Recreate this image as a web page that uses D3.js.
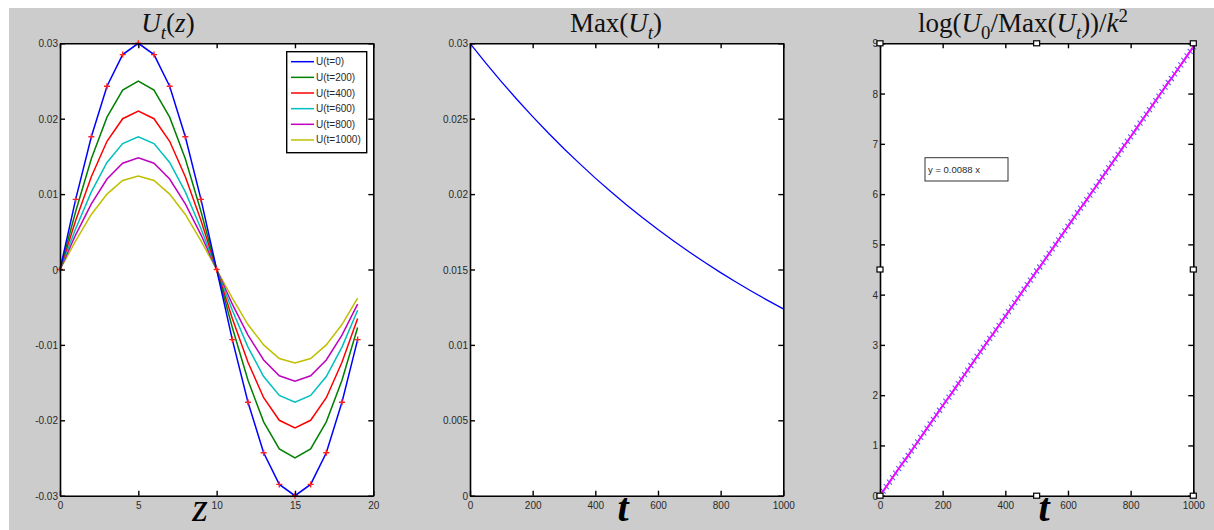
<!DOCTYPE html>
<html><head><meta charset="utf-8">
<script src="https://cdn.jsdelivr.net/npm/d3@7"></script>
<style>
html,body{margin:0;padding:0;background:#fff;}
svg{display:block;}
</style></head>
<body>
<svg id="c" width="1214" height="530"></svg>
<script>
// ---------- DATA ----------
const zValues = [0,1,2,3,4,5,6,7,8,9,10,11,12,13,14,15,16,17,18,19];
const seriesNames = ["U(t=0)","U(t=200)","U(t=400)","U(t=600)","U(t=800)","U(t=1000)"];
const u0    = [0,.0093,.0176,.0243,.0285,.0300,.0285,.0243,.0176,.0093,0,-.0093,-.0176,-.0243,-.0285,-.0300,-.0285,-.0243,-.0176,-.0093];
const u200  = [0,.0077,.0147,.0202,.0238,.0250,.0238,.0202,.0147,.0077,0,-.0077,-.0147,-.0202,-.0238,-.0250,-.0238,-.0202,-.0147,-.0077];
const u400  = [0,.0065,.0123,.0170,.0200,.0210,.0200,.0170,.0123,.0065,0,-.0065,-.0123,-.0170,-.0200,-.0210,-.0200,-.0170,-.0123,-.0065];
const u600  = [0,.0054,.0103,.0142,.0167,.0176,.0167,.0142,.0103,.0054,0,-.0054,-.0103,-.0142,-.0167,-.0176,-.0167,-.0142,-.0103,-.0054];
const u800  = [0,.0046,.0087,.0120,.0141,.0148,.0141,.0120,.0087,.0046,0,-.0046,-.0087,-.0120,-.0141,-.0148,-.0141,-.0120,-.0087,-.0046];
const u1000 = [0,.0038,.0073,.0100,.0118,.0124,.0118,.0100,.0073,.0038,0,-.0038,-.0073,-.0100,-.0118,-.0124,-.0118,-.0100,-.0073,-.0038];
const seriesColors = ["#0000ff","#008000","#ff0000","#00bfbf","#bf00bf","#bfbf00"];

const tValues = [0,50,100,150,200,250,300,350,400,450,500,550,600,650,700,750,800,850,900,950,1000];
const maxU = [.0300,.02870,.02746,.02627,.02514,.02405,.02301,.02202,.02106,.02015,.01928,.01845,.01765,.01689,.01616,.01546,.01479,.01415,.01354,.01295,.01239];

const fitT = [0,10,20,30,40,50,60,70,80,90,100,110,120,130,140,150,160,170,180,190,200,210,220,230,240,250,260,270,280,290,300,310,320,330,340,350,360,370,380,390,400,410,420,430,440,450,460,470,480,490,500,510,520,530,540,550,560,570,580,590,600,610,620,630,640,650,660,670,680,690,700,710,720,730,740,750,760,770,780,790,800,810,820,830,840,850,860,870,880,890,900,910,920,930,940,950,960,970,980,990,1000];
const logRatio = [0,.09,.18,.27,.36,.45,.54,.63,.71,.80,.89,.98,1.07,1.16,1.25,1.34,1.43,1.52,1.61,1.70,1.79,1.88,1.96,2.05,2.14,2.23,2.32,2.41,2.50,2.59,2.68,2.77,2.86,2.95,3.04,3.13,3.21,3.30,3.39,3.48,3.57,3.66,3.75,3.84,3.93,4.02,4.11,4.20,4.29,4.38,4.47,4.55,4.64,4.73,4.82,4.91,5.00,5.09,5.18,5.27,5.36,5.45,5.54,5.63,5.72,5.80,5.89,5.98,6.07,6.16,6.25,6.34,6.43,6.52,6.61,6.70,6.79,6.88,6.97,7.05,7.14,7.23,7.32,7.41,7.50,7.59,7.68,7.77,7.86,7.95,8.04,8.13,8.22,8.30,8.39,8.48,8.57,8.66,8.75,8.84,8.93];
const fitLabel = "y = 0.0088 x";

const xTicks1 = [0,5,10,15,20];
const yTicks1 = [-0.03,-0.02,-0.01,0,0.01,0.02,0.03];
const xTicks2 = [0,200,400,600,800,1000];
const yTicks2 = [0,0.005,0.01,0.015,0.02,0.025,0.03];
const yTicks3 = [0,1,2,3,4,5,6,7,8,9];

// ---------- LAYOUT ----------
const svg = d3.select("#c");
svg.append("rect").attr("x",9).attr("y",8).attr("width",1205).attr("height",522).attr("fill","#cccccc");

const TOP = 43.3, BOT = 495.7;
const fmt = d => String(+(+d).toFixed(4));

function panel(x0, x1, xdom, ydom, xt, yt){
  const x = d3.scaleLinear().domain(xdom).range([x0,x1]);
  const y = d3.scaleLinear().domain(ydom).range([BOT,TOP]);
  const g = svg.append("g");
  g.append("rect").attr("x",x0).attr("y",TOP).attr("width",x1-x0).attr("height",BOT-TOP).attr("fill","#fff");
  const plot = svg.append("g");
  const ax = svg.append("g").attr("class","axes");
  const style = sel => {
    sel.selectAll(".domain").attr("stroke","#000").attr("stroke-width",1.6);
    sel.selectAll(".tick line").attr("stroke","#000").attr("stroke-width",1.4);
    sel.selectAll("text").attr("font-family","'Liberation Sans', Arial, sans-serif").attr("font-size",10).attr("fill","#2a2a2a");
  };
  ax.append("g").attr("transform",`translate(${x0},0)`)
    .call(d3.axisLeft(y).tickValues(yt).tickSize(-5).tickSizeOuter(0).tickPadding(2).tickFormat(fmt)).call(style)
    .selectAll("text").attr("dy","0.35em");
  ax.append("g").attr("transform",`translate(${x1},0)`)
    .call(d3.axisRight(y).tickValues(yt).tickSize(-5).tickSizeOuter(0).tickFormat("")).call(style);
  ax.append("g").attr("transform",`translate(0,${TOP})`)
    .call(d3.axisTop(x).tickValues(xt).tickSize(-5).tickSizeOuter(0).tickFormat("")).call(style);
  ax.append("g").attr("transform",`translate(0,${BOT})`)
    .call(d3.axisBottom(x).tickValues(xt).tickSize(-5).tickSizeOuter(0).tickPadding(6).tickFormat(fmt)).call(style);
  return {x,y,plot,ax};
}

function mathText(cx, cy, parts, size){
  const t = svg.append("text").attr("x",cx).attr("y",cy).attr("text-anchor","middle")
    .attr("font-family","'Liberation Serif','Times New Roman',serif").attr("font-size",size).attr("fill","#111");
  let cur = 0;
  parts.forEach(p=>{
    const target = p.sub ? size*0.25 : (p.sup ? -size*0.38 : 0);
    const s = t.append("tspan").text(p.t).attr("dy", target-cur);
    cur = target;
    if(p.i) s.attr("font-style","italic");
    if(p.sub||p.sup) s.attr("font-size", size*0.7);
  });
  return t;
}

// ---------- PANEL 1 ----------
const p1 = panel(60, 373.3, [0,20], [-0.03,0.03], xTicks1, yTicks1);
const all = [u0,u200,u400,u600,u800,u1000];
const line1 = d3.line().x((d,i)=>p1.x(zValues[i])).y(d=>p1.y(d));
all.slice().reverse().forEach((s,k)=>{
  const idx = all.length-1-k;
  p1.plot.append("path").attr("d",line1(s)).attr("fill","none")
    .attr("stroke",seriesColors[idx]).attr("stroke-width",1.5);
});
// red + markers on U(t=0)
p1.plot.selectAll("path.plus").data(u0).join("path").attr("class","plus")
  .attr("d",(d,i)=>{const X=p1.x(zValues[i]),Y=p1.y(d);return `M${X-3},${Y}H${X+3}M${X},${Y-3}V${Y+3}`;})
  .attr("stroke","#ff2020").attr("stroke-width",1.4).attr("fill","none");
// legend
const lg = svg.append("g");
lg.append("rect").attr("x",286.7).attr("y",51.7).attr("width",80).attr("height",101).attr("fill","#fff").attr("stroke","#000").attr("stroke-width",1.4);
seriesNames.forEach((n,i)=>{
  const yy = 61.7 + i*15.65;
  lg.append("line").attr("x1",291).attr("x2",314).attr("y1",yy).attr("y2",yy).attr("stroke",seriesColors[i]).attr("stroke-width",1.5);
  lg.append("text").attr("x",316).attr("y",yy).attr("dy","0.35em").text(n)
    .attr("font-family","'Liberation Sans', Arial, sans-serif").attr("font-size",10).attr("fill","#2a2a2a");
});
mathText(168, 32, [{t:"U",i:true},{t:"t",i:true,sub:true},{t:"("},{t:"z",i:true},{t:")"}], 27);
svg.append("text").attr("x",200).attr("y",521).attr("text-anchor","middle").text("z")
  .attr("font-family","'Liberation Serif',serif").attr("font-style","italic").attr("font-size",40).attr("fill","#000");

// ---------- PANEL 2 ----------
const p2 = panel(470, 783.3, [0,1000], [0,0.03], xTicks2, yTicks2);
p2.plot.append("path").attr("d", d3.line().x((d,i)=>p2.x(tValues[i])).y(d=>p2.y(d))(maxU))
  .attr("fill","none").attr("stroke","#0000ff").attr("stroke-width",1.3);
mathText(616, 32, [{t:"Max("},{t:"U",i:true},{t:"t",i:true,sub:true},{t:")"}], 27);
svg.append("text").attr("x",623).attr("y",521).attr("text-anchor","middle").text("t")
  .attr("font-family","'Liberation Serif',serif").attr("font-style","italic").attr("font-weight","bold").attr("font-size",40).attr("fill","#000");

// ---------- PANEL 3 ----------
const p3 = panel(880, 1193.3, [0,1000], [0,9], xTicks2, yTicks3);
p3.plot.selectAll("path.xm").data(logRatio).join("path").attr("class","xm")
  .attr("d",(d,i)=>{const X=p3.x(fitT[i]),Y=p3.y(d);return `M${X-2.5},${Y-2.5}L${X+2.5},${Y+2.5}M${X-2.5},${Y+2.5}L${X+2.5},${Y-2.5}`;})
  .attr("stroke","#5a5aff").attr("stroke-width",1.1).attr("fill","none");
p3.plot.append("path").attr("d", d3.line().x((d,i)=>p3.x(fitT[i])).y(d=>p3.y(d))(logRatio))
  .attr("fill","none").attr("stroke","#ff00ff").attr("stroke-width",1.8);
// fit label box
svg.append("rect").attr("x",925).attr("y",157.7).attr("width",83).attr("height",23.3).attr("fill","#fff").attr("stroke","#333").attr("stroke-width",1);
svg.append("text").attr("x",928).attr("y",169.5).attr("dy","0.35em").text(fitLabel)
  .attr("font-family","'Liberation Sans', Arial, sans-serif").attr("font-size",9.5).attr("fill","#2a2a2a");
// yellow point at origin
svg.append("rect").attr("x",p3.x(0)-1).attr("y",p3.y(0)-3).attr("width",4).attr("height",4).attr("fill","#e6e600");
// selection handles
const hx = [p3.x(0), p3.x(500), p3.x(1000)], hy=[p3.y(9), p3.y(4.5), p3.y(0)];
hx.forEach((X,i)=>hy.forEach((Y,j)=>{
  if(i===1&&j===1) return;
  svg.append("rect").attr("x",X-3).attr("y",Y-2.5).attr("width",6).attr("height",5)
    .attr("fill","#fff").attr("stroke","#000").attr("stroke-width",1.2);
}));
mathText(1023, 32, [{t:"log("},{t:"U",i:true},{t:"0",sub:true},{t:"/Max("},{t:"U",i:true},{t:"t",i:true,sub:true},{t:"))/"},{t:"k",i:true},{t:"2",sup:true}], 27);
svg.append("text").attr("x",1044).attr("y",521).attr("text-anchor","middle").text("t")
  .attr("font-family","'Liberation Serif',serif").attr("font-style","italic").attr("font-weight","bold").attr("font-size",40).attr("fill","#000");
</script>
</body></html>
